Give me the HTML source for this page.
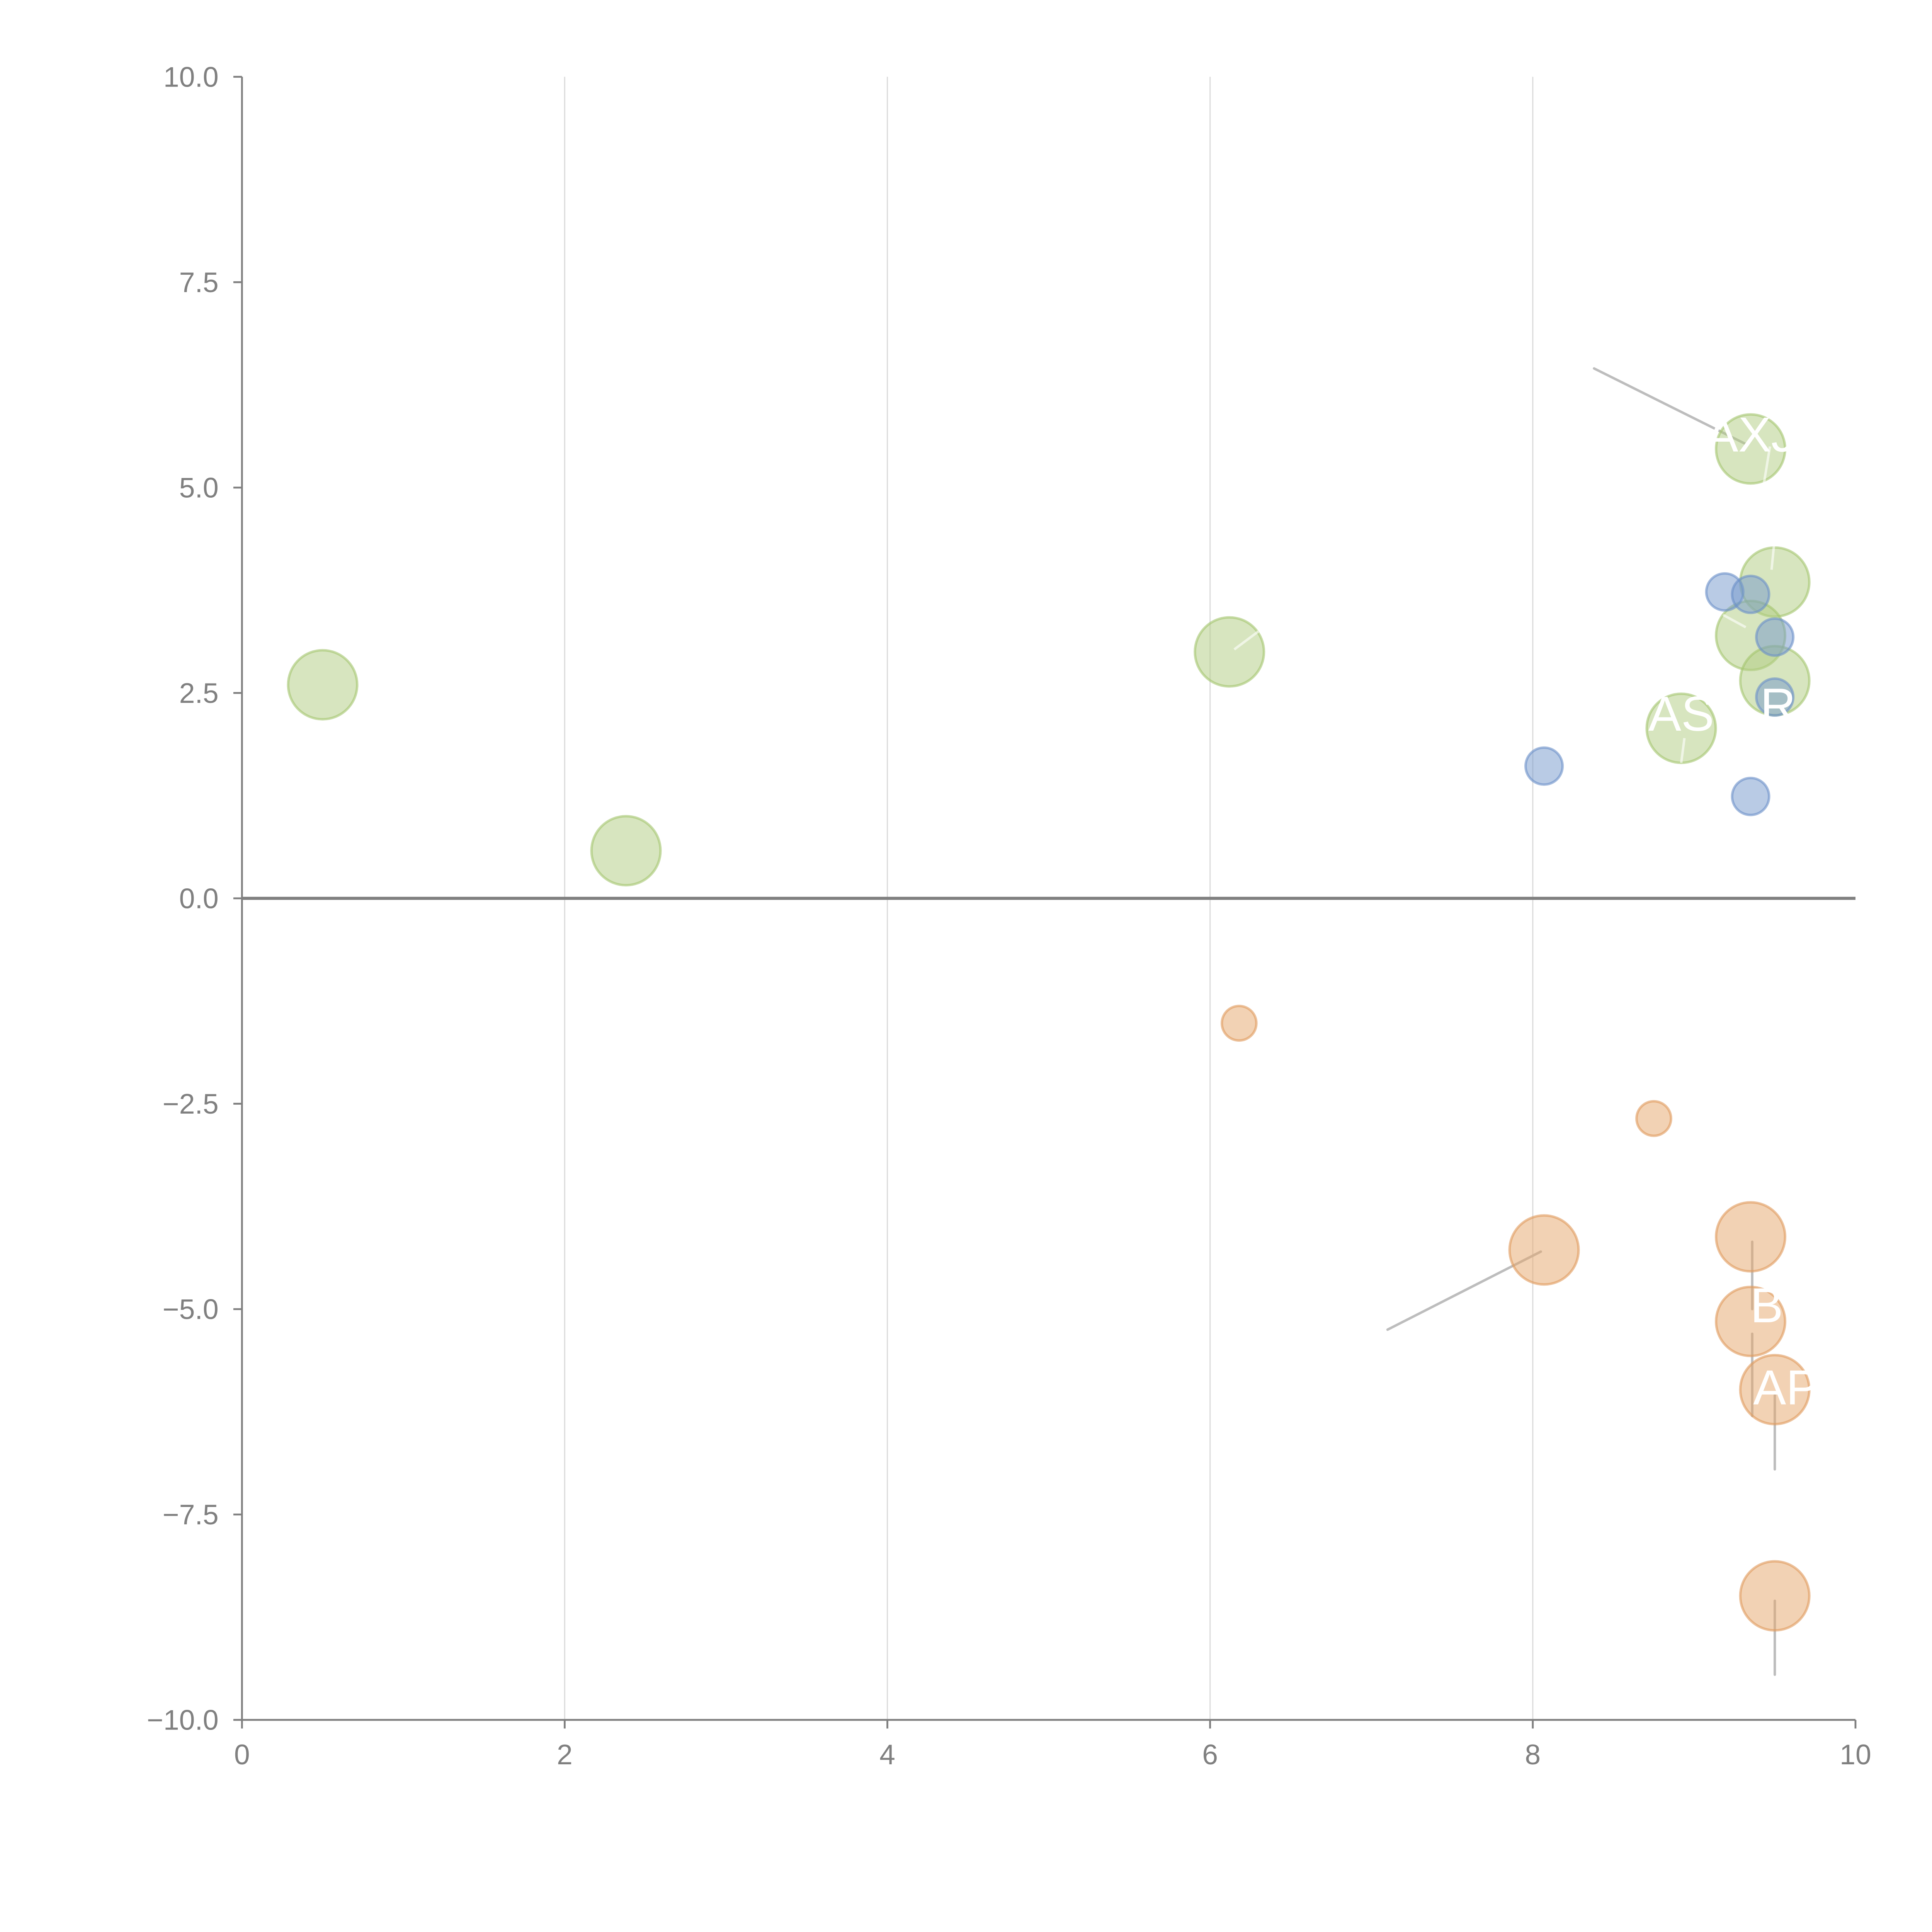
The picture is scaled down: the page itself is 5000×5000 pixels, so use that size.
<!DOCTYPE html>
<html><head><meta charset="utf-8"><style>
html,body{margin:0;padding:0;background:#fff;width:5000px;height:5000px;overflow:hidden}
svg{display:block}
text{font-family:"Liberation Sans",sans-serif}
</style></head><body>
<svg id="chart" width="5000" height="5000" xmlns="http://www.w3.org/2000/svg">
<g id="root" transform="translate(1,1) scale(3.19)"></g>
</svg>
<script>
const greenX=[0.5,2.38,6.12,9.35,9.5,9.35,9.5,8.92];
const greenY=[2.6,0.58,3.0,5.47,3.85,3.2,2.65,2.07];
const blueX=[9.19,9.35,9.5,9.5,8.07,9.35];
const blueY=[3.73,3.7,3.18,2.45,1.61,1.24];
const orangeX=[6.18,8.75,8.07,9.35,9.35,9.5,9.5];
const orangeY=[-1.52,-2.68,-4.28,-4.12,-5.15,-5.98,-8.49];
const orangeSize=[1,1,2,2,2,2,2];
const xTicks=[0,2,4,6,8,10];
const yTicks=[10,7.5,5,2.5,0,-2.5,-5,-7.5,-10];
const yTickLabels=["10.0","7.5","5.0","2.5","0.0","\u22122.5","\u22125.0","\u22127.5","\u221210.0"];
const labelTexts=["AXJ","AS","R","B","AP"];
const labelX=[9.35,8.92,9.52,9.45,9.57];
const labelY=[5.65,2.25,2.35,-4.95,-5.95];

const X0=196,X1=1505,Y0=1395,Y1=62;
const sx=v=>X0+(v-0)/(10-0)*(X1-X0);
const sy=v=>Y0-(v+10)/20*(Y0-Y1);
const NS="http://www.w3.org/2000/svg";
const root=document.getElementById('root');
function mk(tag,attrs,parent){const e=document.createElementNS(NS,tag);for(const k in attrs)e.setAttribute(k,attrs[k]);(parent||root).appendChild(e);return e;}

xTicks.forEach((t,i)=>{ if(t>0&&t<10){
 const l=mk('line',{x1:sx(t),x2:sx(t),y1:Y1,y2:Y0,stroke:'#dcdcdc','stroke-width':1});
 
 
}});
const z=mk('line',{x1:X0,x2:X1,y1:sy(0),y2:sy(0),stroke:'#808080','stroke-width':2.5});


const ya=mk('line',{x1:X0,x2:X0,y1:Y1,y2:Y0,stroke:'#808080','stroke-width':1.5});


const xa=mk('line',{x1:X0,x2:X1,y1:Y0,y2:Y0,stroke:'#808080','stroke-width':1.5});


yTicks.forEach((t,i)=>{
 const tk=mk('line',{x1:X0-7,x2:X0,y1:sy(t),y2:sy(t),stroke:'#808080','stroke-width':1.5});
 
 
 const tx=mk('text',{x:X0-19,y:sy(t)+8,'text-anchor':'end','font-size':23,fill:'#808080'});
 tx.textContent=yTickLabels[i];
 
 
});
xTicks.forEach(t=>{
 const tk=mk('line',{x1:sx(t),x2:sx(t),y1:Y0,y2:Y0+7,stroke:'#808080','stroke-width':1.5});
 
 
 const tx=mk('text',{x:sx(t),y:Y0+36,'text-anchor':'middle','font-size':23,fill:'#808080'});
 tx.textContent=String(t);
 
 
});
const leaders=[[8.38,6.45,9.33,5.52],[7.1,-5.25,8.05,-4.3],[9.36,-4.18,9.36,-5.0],[9.36,-5.3,9.36,-6.3],[9.5,-6.05,9.5,-6.95],[9.5,-8.55,9.5,-9.45]];
leaders.forEach(a=>{
 const l=mk('line',{x1:sx(a[0]),y1:sy(a[1]),x2:sx(a[2]),y2:sy(a[3]),stroke:'#bdbdbd','stroke-width':2,'stroke-linecap':'round'});
 
 
});
function bubbles(xs,ys,rs,fill,stroke,name){
 xs.forEach((v,i)=>{
  const c=mk('circle',{cx:sx(v),cy:sy(ys[i]),r:rs(i),fill:fill,'fill-opacity':0.5,stroke:stroke,'stroke-opacity':0.6,'stroke-width':2});
  
  
 });
}
bubbles(greenX,greenY,()=>28,'#b0cc80','#a3c46e','green-bubble');
bubbles(blueX,blueY,()=>15,'#7398cc','#6a90c8','blue-bubble');
bubbles(orangeX,orangeY,i=>orangeSize[i]===1?14:28,'#e5a56a','#e09a5c','orange-bubble');
const wl=[[9.43,5.02,9.47,5.5],[6.15,3.03,6.3,3.25],[8.92,1.65,8.94,1.95],[9.18,3.45,9.32,3.3],[9.5,4.4,9.48,4.0]];
wl.forEach(a=>{
 const l=mk('line',{x1:sx(a[0]),y1:sy(a[1]),x2:sx(a[2]),y2:sy(a[3]),stroke:'#ffffff','stroke-opacity':0.6,'stroke-width':2});
 
 
});
labelTexts.forEach((s,i)=>{
 const t=mk('text',{x:sx(labelX[i]),y:sy(labelY[i])+14,'text-anchor':'middle','font-size':40,fill:'#ffffff'});
 t.textContent=s;
 
 
});
</script>
</body></html>
